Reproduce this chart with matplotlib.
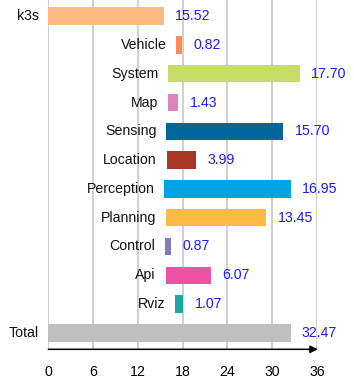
import matplotlib
matplotlib.use('Agg')
import matplotlib.pyplot as plt

plt.rcParams['font.family'] = ['Liberation Sans', 'DejaVu Sans']

# Stage names, start times and durations
names = ['k3s', 'Vehicle', 'System', 'Map', 'Sensing', 'Location', 'Perception',
         'Planning', 'Control', 'Api', 'Rviz', 'Total']
starts = [0, 17.15, 16.05, 16.0, 15.8, 15.86, 15.52, 15.78, 15.63, 15.72, 17.03, 0]
durations = [15.52, 0.82, 17.70, 1.43, 15.70, 3.99, 16.95, 13.45, 0.87, 6.07, 1.07, 32.47]
colors = ['#fdbb84', '#fc8d59', '#c7dd68', '#dc84bb', '#03669a', '#a73726', '#00a3e3',
          '#fdba45', '#7d7dc0', '#ef52a3', '#16a99e', '#bfbfbf']
xticks = [0, 6, 12, 18, 24, 30, 36]

fig = plt.figure(figsize=(3.54, 3.84), dpi=100)
ax = fig.add_axes([48.3 / 354, 34.7 / 384, 268.7 / 354, 349.3 / 384])

ypos = list(range(len(names)))
ax.barh(ypos, durations, left=starts, height=0.6, color=colors, zorder=2)

fs = 10.2
for i, (n, s, d) in enumerate(zip(names, starts, durations)):
    ax.annotate(n, (s, i), xytext=(-7, 0), textcoords='offset points',
                ha='right', va='center', fontsize=fs, color='#111111')
    ax.annotate(f'{d:.2f}', (s + d, i), xytext=(8, 0), textcoords='offset points',
                ha='left', va='center', fontsize=fs, color='#1a1aff')

ax.set_xlim(0, 36)
ax.set_ylim(len(names) - 0.43, -0.56)
ax.set_xticks(xticks)
ax.set_yticks([])
ax.tick_params(axis='x', length=0, pad=11, labelsize=fs)
ax.grid(axis='x', color='#c8c8c8', lw=1.2, zorder=0)
for sp in ax.spines.values():
    sp.set_visible(False)

# axis arrow
ybot = ax.get_ylim()[0]
ax.annotate('', xy=(36.1, ybot), xytext=(0, ybot), xycoords='data',
            arrowprops=dict(arrowstyle='-|>', color='black', lw=1.1,
                            mutation_scale=11, shrinkA=0, shrinkB=0),
            annotation_clip=False)

fig.savefig('out.png', dpi=100)
